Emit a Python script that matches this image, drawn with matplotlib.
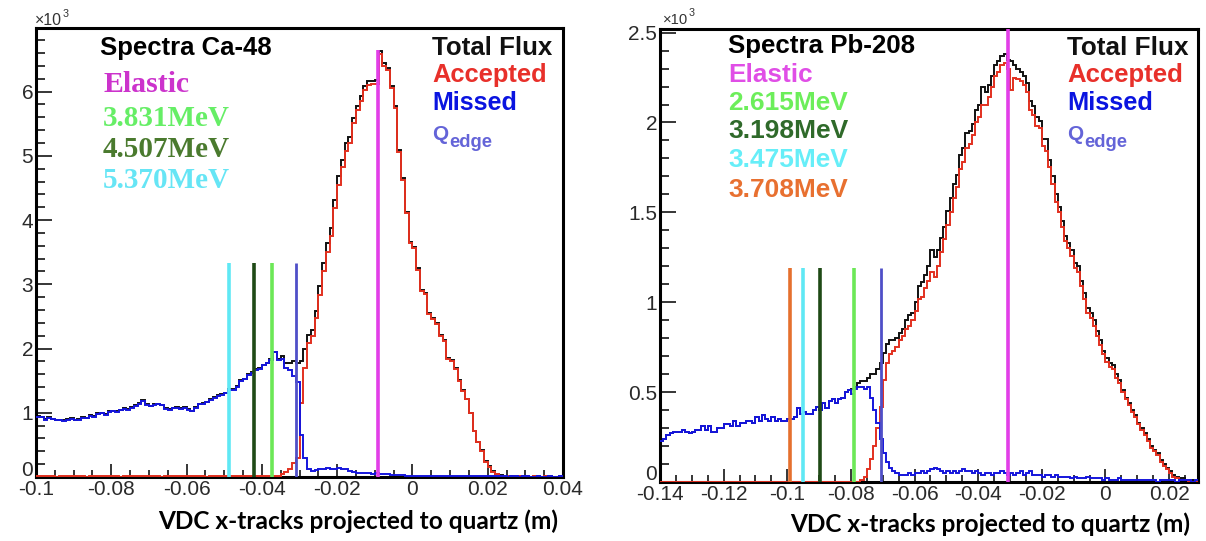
import matplotlib
matplotlib.use("Agg")
import matplotlib.pyplot as plt
import numpy as np
from matplotlib.ticker import MultipleLocator, FuncFormatter
from matplotlib.transforms import ScaledTranslation

plt.rcParams["axes.unicode_minus"] = False

# ---------------------------------------------------------------- data
# Ca-48: 1 mm bins from -0.100 m to 0.040 m, counts in units of 10^3
ca48_edges_range = (-0.100, 0.040)
ca48_total = [
    0.95, 0.94, 0.90, 0.93, 0.91, 0.88, 0.89, 0.88, 0.90, 0.92,
    0.89, 0.90, 0.93, 0.92, 0.96, 0.95, 1.00, 1.00, 0.98, 1.02,
    1.03, 1.02, 1.04, 1.07, 1.06, 1.09, 1.12, 1.15, 1.20, 1.13,
    1.11, 1.13, 1.14, 1.12, 1.07, 1.06, 1.08, 1.09, 1.08, 1.09,
    1.06, 1.03, 1.09, 1.14, 1.15, 1.17, 1.21, 1.24, 1.27, 1.29,
    1.31, 1.37, 1.37, 1.41, 1.51, 1.53, 1.60, 1.64, 1.68, 1.69,
    1.75, 1.78, 1.83, 1.95, 1.84, 1.88, 1.78, 1.78, 1.80, 1.78,
    1.80, 2.00, 2.21, 2.29, 2.58, 2.97, 3.33, 3.64, 3.87, 4.31,
    4.68, 4.94, 5.20, 5.30, 5.59, 5.78, 5.93, 6.08, 6.16, 6.17,
    6.18, 6.63, 6.44, 6.37, 6.08, 5.78, 5.09, 4.65, 4.13, 3.66,
    3.58, 3.25, 2.91, 2.86, 2.55, 2.47, 2.39, 2.21, 2.13, 1.85,
    1.82, 1.69, 1.51, 1.35, 1.22, 1.00, 0.72, 0.55, 0.42, 0.25,
    0.17, 0.09, 0.05, 0.03, 0.02, 0.01, 0.01, 0.02, 0.02, 0.02,
    0.02, 0.00, 0.01, 0.01, 0.00, 0.01, 0.01, 0.00, 0.00, 0.01,
]
ca48_accepted = [
    0.01, 0.01, 0.02, 0.01, 0.01, 0.00, 0.01, 0.01, 0.01, 0.02,
    0.01, 0.01, 0.01, 0.00, 0.01, 0.01, 0.02, 0.01, 0.01, 0.01,
    0.01, 0.01, 0.00, 0.01, 0.01, 0.01, 0.02, 0.01, 0.01, 0.01,
    0.01, 0.01, 0.01, 0.00, 0.01, 0.01, 0.01, 0.01, 0.02, 0.01,
    0.01, 0.01, 0.01, 0.01, 0.01, 0.00, 0.01, 0.01, 0.01, 0.01,
    0.01, 0.01, 0.01, 0.01, 0.01, 0.01, 0.01, 0.02, 0.01, 0.01,
    0.01, 0.01, 0.01, 0.01, 0.02, 0.04, 0.08, 0.12, 0.22, 0.30,
    1.15, 1.70, 2.09, 2.19, 2.47, 2.84, 3.21, 3.50, 3.75, 4.18,
    4.54, 4.82, 5.08, 5.20, 5.51, 5.71, 5.86, 6.02, 6.10, 6.12,
    6.12, 6.59, 6.40, 6.33, 6.05, 5.75, 5.06, 4.62, 4.11, 3.64,
    3.56, 3.23, 2.90, 2.85, 2.54, 2.46, 2.38, 2.20, 2.12, 1.84,
    1.81, 1.68, 1.50, 1.34, 1.21, 0.99, 0.71, 0.54, 0.41, 0.24,
    0.16, 0.08, 0.04, 0.02, 0.01, 0.01, 0.00, 0.01, 0.02, 0.01,
    0.01, 0.00, 0.01, 0.00, 0.00, 0.01, 0.00, 0.00, 0.00, 0.00,
]
ca48_missed = [
    0.94, 0.93, 0.88, 0.92, 0.90, 0.88, 0.88, 0.87, 0.89, 0.90,
    0.88, 0.89, 0.92, 0.92, 0.95, 0.94, 0.98, 0.99, 0.97, 1.01,
    1.02, 1.01, 1.04, 1.06, 1.05, 1.08, 1.10, 1.14, 1.19, 1.12,
    1.10, 1.12, 1.13, 1.12, 1.06, 1.05, 1.07, 1.08, 1.06, 1.08,
    1.05, 1.02, 1.08, 1.13, 1.14, 1.17, 1.20, 1.23, 1.26, 1.28,
    1.30, 1.36, 1.36, 1.40, 1.50, 1.52, 1.59, 1.62, 1.67, 1.68,
    1.74, 1.77, 1.82, 1.94, 1.82, 1.84, 1.70, 1.66, 1.58, 1.48,
    0.65, 0.30, 0.12, 0.10, 0.11, 0.13, 0.12, 0.14, 0.12, 0.13,
    0.14, 0.12, 0.12, 0.10, 0.08, 0.07, 0.07, 0.06, 0.06, 0.05,
    0.06, 0.04, 0.04, 0.04, 0.03, 0.03, 0.03, 0.03, 0.02, 0.02,
    0.02, 0.02, 0.01, 0.01, 0.01, 0.01, 0.01, 0.01, 0.01, 0.01,
    0.01, 0.01, 0.01, 0.01, 0.01, 0.01, 0.01, 0.01, 0.01, 0.01,
    0.01, 0.01, 0.01, 0.01, 0.01, 0.00, 0.01, 0.01, 0.00, 0.01,
    0.01, 0.00, 0.00, 0.01, 0.00, 0.00, 0.01, 0.00, 0.00, 0.01,
]
ca48_elastic_x = -0.0091
ca48_elastic_top = 6.65
ca48_state_labels = ["3.831MeV", "4.507MeV", "5.370MeV"]
ca48_state_x = [-0.0373, -0.0421, -0.0487]
ca48_qedge_x = -0.0309
ca48_marker_top = 3.33

# Pb-208: 1 mm bins from -0.140 m to 0.030 m, counts in units of 10^3
pb208_edges_range = (-0.140, 0.030)
pb208_total = [
    0.23, 0.24, 0.26, 0.27, 0.28, 0.28, 0.28, 0.29, 0.28, 0.27,
    0.28, 0.29, 0.29, 0.31, 0.29, 0.31, 0.28, 0.28, 0.30, 0.30,
    0.32, 0.32, 0.31, 0.34, 0.31, 0.33, 0.33, 0.34, 0.34, 0.33,
    0.36, 0.34, 0.37, 0.35, 0.34, 0.36, 0.34, 0.35, 0.34, 0.34,
    0.35, 0.35, 0.36, 0.41, 0.38, 0.39, 0.38, 0.38, 0.40, 0.42,
    0.40, 0.44, 0.41, 0.45, 0.46, 0.44, 0.46, 0.47, 0.50, 0.51,
    0.52, 0.53, 0.55, 0.56, 0.56, 0.58, 0.60, 0.60, 0.63, 0.66,
    0.72, 0.77, 0.79, 0.79, 0.80, 0.83, 0.85, 0.90, 0.93, 0.94,
    1.00, 1.09, 1.11, 1.15, 1.20, 1.29, 1.25, 1.29, 1.36, 1.42,
    1.51, 1.58, 1.66, 1.71, 1.82, 1.86, 1.94, 1.95, 1.99, 2.07,
    2.10, 2.20, 2.17, 2.21, 2.26, 2.32, 2.34, 2.37, 2.38, 2.35,
    2.34, 2.32, 2.30, 2.28, 2.26, 2.22, 2.12, 2.09, 2.03, 2.01,
    1.91, 1.91, 1.79, 1.70, 1.60, 1.53, 1.45, 1.37, 1.33, 1.29,
    1.22, 1.20, 1.12, 1.05, 0.97, 0.94, 0.90, 0.84, 0.79, 0.73,
    0.69, 0.66, 0.65, 0.60, 0.57, 0.51, 0.47, 0.44, 0.40, 0.37,
    0.33, 0.30, 0.27, 0.24, 0.20, 0.18, 0.16, 0.12, 0.10, 0.08,
    0.06, 0.04, 0.03, 0.02, 0.02, 0.01, 0.01, 0.01, 0.00, 0.00,
]
pb208_accepted = [
    0.00, 0.00, 0.00, 0.00, 0.00, 0.00, 0.00, 0.00, 0.00, 0.00,
    0.00, 0.00, 0.00, 0.00, 0.00, 0.00, 0.00, 0.00, 0.00, 0.00,
    0.00, 0.00, 0.00, 0.00, 0.00, 0.00, 0.00, 0.00, 0.00, 0.00,
    0.00, 0.00, 0.00, 0.00, 0.00, 0.00, 0.00, 0.00, 0.00, 0.00,
    0.00, 0.00, 0.00, 0.00, 0.00, 0.00, 0.00, 0.00, 0.00, 0.00,
    0.00, 0.00, 0.00, 0.00, 0.00, 0.00, 0.00, 0.00, 0.00, 0.00,
    0.00, 0.00, 0.00, 0.01, 0.03, 0.07, 0.13, 0.20, 0.30, 0.42,
    0.57, 0.66, 0.71, 0.73, 0.75, 0.79, 0.81, 0.85, 0.87, 0.90,
    0.95, 1.02, 1.03, 1.08, 1.12, 1.17, 1.14, 1.20, 1.28, 1.35,
    1.43, 1.50, 1.58, 1.64, 1.74, 1.78, 1.86, 1.88, 1.93, 2.00,
    2.03, 2.10, 2.10, 2.14, 2.20, 2.26, 2.28, 2.32, 2.33, 2.30,
    2.18, 2.25, 2.24, 2.23, 2.21, 2.17, 2.07, 2.04, 1.98, 1.97,
    1.87, 1.84, 1.75, 1.66, 1.56, 1.50, 1.42, 1.34, 1.30, 1.26,
    1.19, 1.17, 1.09, 1.02, 0.94, 0.91, 0.87, 0.81, 0.76, 0.71,
    0.67, 0.64, 0.63, 0.58, 0.55, 0.50, 0.46, 0.43, 0.39, 0.36,
    0.32, 0.29, 0.26, 0.23, 0.19, 0.17, 0.15, 0.11, 0.09, 0.07,
    0.05, 0.03, 0.02, 0.01, 0.01, 0.01, 0.00, 0.00, 0.00, 0.00,
]
pb208_missed = [
    0.23, 0.24, 0.26, 0.27, 0.28, 0.28, 0.28, 0.29, 0.28, 0.27,
    0.28, 0.29, 0.29, 0.31, 0.29, 0.31, 0.28, 0.28, 0.30, 0.30,
    0.32, 0.32, 0.31, 0.34, 0.31, 0.33, 0.33, 0.34, 0.34, 0.33,
    0.36, 0.34, 0.37, 0.35, 0.34, 0.36, 0.34, 0.35, 0.34, 0.34,
    0.35, 0.35, 0.36, 0.41, 0.38, 0.39, 0.38, 0.38, 0.40, 0.42,
    0.40, 0.44, 0.41, 0.45, 0.46, 0.44, 0.46, 0.47, 0.50, 0.51,
    0.49, 0.52, 0.53, 0.53, 0.52, 0.53, 0.47, 0.40, 0.33, 0.24,
    0.16, 0.11, 0.08, 0.06, 0.05, 0.04, 0.04, 0.04, 0.05, 0.04,
    0.05, 0.05, 0.06, 0.05, 0.06, 0.07, 0.08, 0.07, 0.06, 0.05,
    0.06, 0.05, 0.06, 0.05, 0.06, 0.07, 0.06, 0.06, 0.05, 0.06,
    0.05, 0.04, 0.05, 0.05, 0.04, 0.05, 0.05, 0.06, 0.05, 0.04,
    0.05, 0.04, 0.05, 0.06, 0.04, 0.05, 0.06, 0.04, 0.04, 0.04,
    0.03, 0.04, 0.04, 0.03, 0.04, 0.03, 0.03, 0.03, 0.03, 0.02,
    0.03, 0.02, 0.02, 0.02, 0.03, 0.02, 0.02, 0.02, 0.02, 0.01,
    0.02, 0.01, 0.01, 0.01, 0.02, 0.01, 0.01, 0.01, 0.01, 0.01,
    0.01, 0.01, 0.01, 0.01, 0.01, 0.01, 0.00, 0.01, 0.01, 0.01,
    0.01, 0.01, 0.00, 0.01, 0.01, 0.01, 0.01, 0.00, 0.01, 0.01,
]
pb208_elastic_x = -0.0305
pb208_state_labels = ["2.615MeV", "3.198MeV", "3.475MeV", "3.708MeV"]
pb208_state_x = [-0.0790, -0.0897, -0.0950, -0.0991]
pb208_qedge_x = -0.0705
pb208_marker_top = 1.19

x_label = "VDC x-tracks projected to quartz (m)"
flux_labels = ["Total Flux", "Accepted", "Missed"]

# ---------------------------------------------------------------- style
C_TOTAL, C_ACC, C_MISS = "#111111", "#e2301f", "#1515dc"
C_QEDGE_LINE, C_QEDGE_TXT = "#4f4fc8", "#6464d8"
C_ELASTIC_LINE = "#e23ee8"
ca48_state_line_colors = ["#6ce857", "#1f4a16", "#5fe8f4"]
ca48_state_text_colors = ["#66ee66", "#4a7a2e", "#66e5f5"]
pb208_state_line_colors = ["#6ce857", "#1f4a16", "#5fe8f4", "#e5702e"]
pb208_state_text_colors = ["#6cee5a", "#2f6a2a", "#66eef8", "#e87030"]
SANS = "Liberation Sans"
SERIF = "Liberation Serif"

W, H = 1206, 541
fig = plt.figure(figsize=(W / 100, H / 100), dpi=100)
renderer = fig.canvas.get_renderer()


def axes_px(left, top, right, bottom):
    return fig.add_axes([left / W, 1 - bottom / H, (right - left) / W, (bottom - top) / H])


def fitted_text(x, y, s, width, color, family=SANS, weight="bold", ha="left"):
    """Place text with its baseline at pixel (x, y) and a given pixel width."""
    t = fig.text(x / W, 1 - y / H, s, ha=ha, va="baseline", fontsize=20,
                 color=color, family=family, weight=weight)
    w = t.get_window_extent(renderer).width
    t.set_fontsize(20 * width / w)
    return t


def tick_fmt(v, _pos):
    v = round(v, 6)
    if v == 0:
        return "0"
    return f"{v:g}"


def style_axes(ax, xmajor, xminor, ymajor, yminor):
    for sp in ax.spines.values():
        sp.set_linewidth(2.2)
        sp.set_color("black")
    ax.xaxis.set_major_locator(MultipleLocator(xmajor))
    ax.xaxis.set_minor_locator(MultipleLocator(xminor))
    ax.yaxis.set_major_locator(MultipleLocator(ymajor))
    ax.yaxis.set_minor_locator(MultipleLocator(yminor))
    ax.xaxis.set_major_formatter(FuncFormatter(tick_fmt))
    ax.yaxis.set_major_formatter(FuncFormatter(tick_fmt))
    ax.tick_params(which="both", direction="in", top=False, right=False,
                   width=1.1, color="black", labelsize=15, labelcolor="#2a2a2a")
    for lab in ax.get_xticklabels() + ax.get_yticklabels():
        lab.set_family(SANS)
    ax.tick_params(axis="x", which="major", length=9.5, pad=2.5)
    ax.tick_params(axis="x", which="minor", length=5)
    ax.tick_params(axis="y", which="major", length=11.5, pad=2)
    ax.tick_params(axis="y", which="minor", length=6.5)


def lift_zero_label(ax, px):
    """Raise the '0' label of the y axis clear of the x tick labels."""
    fig.canvas.draw()
    for tick in ax.yaxis.get_major_ticks():
        if abs(tick.get_loc()) < 1e-9:
            lab = tick.label1
            lab.set_transform(lab.get_transform()
                              + ScaledTranslation(0, px / 100, fig.dpi_scale_trans))


def draw_spectrum(ax, rng, total, accepted, missed):
    edges = np.linspace(rng[0], rng[1], len(total) + 1)
    ax.stairs(total, edges, baseline=None, color=C_TOTAL, lw=1.4, zorder=2)
    ax.stairs(accepted, edges, baseline=None, color=C_ACC, lw=1.4, zorder=3)
    ax.stairs(missed, edges, baseline=None, color=C_MISS, lw=1.4, zorder=4)


def marker(ax, x, top, color, lw=2.6):
    ax.plot([x, x], [0, top], color=color, lw=lw, solid_capstyle="butt", zorder=6)


# ---------------------------------------------------------------- Ca-48
axL = axes_px(36, 28, 563, 477)
draw_spectrum(axL, ca48_edges_range, ca48_total, ca48_accepted, ca48_missed)
for x, c in zip(ca48_state_x, ca48_state_line_colors):
    marker(axL, x, ca48_marker_top, c)
marker(axL, ca48_qedge_x, ca48_marker_top, C_QEDGE_LINE, lw=2.0)
marker(axL, ca48_elastic_x, ca48_elastic_top, C_ELASTIC_LINE)
axL.set_xlim(*ca48_edges_range)
axL.set_ylim(0, 6.99)
style_axes(axL, 0.02, 0.005, 1, 0.2)

# ---------------------------------------------------------------- Pb-208
axR = axes_px(660, 29, 1198, 482)
draw_spectrum(axR, pb208_edges_range, pb208_total, pb208_accepted, pb208_missed)
for x, c in zip(pb208_state_x, pb208_state_line_colors):
    marker(axR, x, pb208_marker_top, c)
marker(axR, pb208_qedge_x, pb208_marker_top, C_QEDGE_LINE, lw=2.0)
axR.set_xlim(-0.14, 0.0291)
axR.set_ylim(0, 2.52)
marker(axR, pb208_elastic_x, 2.52, C_ELASTIC_LINE)
style_axes(axR, 0.02, 0.005, 0.5, 0.1)

lift_zero_label(axL, 9)
lift_zero_label(axR, 9)

# ---------------------------------------------------------------- texts
# exponent labels above the y axes
for x0, y0, w in [(35, 25, 27), (663, 24, 25)]:
    fitted_text(x0, y0, "\u00d710", w, "#333333", weight="normal")
    fitted_text(x0 + w + 1, y0 - 8, "3", 6, "#333333", weight="normal")

# Ca-48 annotations
fitted_text(100, 55, "Spectra Ca-48", 172, "black")
fitted_text(103, 92, "Elastic", 86, "#cc33cc", family=SERIF)
for lab, c, yb in zip(ca48_state_labels, ca48_state_text_colors, [126, 157, 188]):
    fitted_text(103, yb, lab, 127, c, family=SERIF)

# Pb-208 annotations
fitted_text(728, 53, "Spectra Pb-208", 187, "black")
fitted_text(728, 82, "Elastic", 84, "#e04ee6")
for lab, c, yb in zip(pb208_state_labels, pb208_state_text_colors, [110, 138, 167, 197]):
    fitted_text(728, yb, lab, 120, c)

# flux legends
for x0, widths in [(432, [120, 115, 85]), (1067, [121, 116, 86])]:
    for lab, c, yb, w in zip(flux_labels, [C_TOTAL, "#e8302a", "#0a14e0"], [55, 82, 110], widths):
        fitted_text(x0, yb, lab, w, c)
    fitted_text(x0, 140, "Q", 16, C_QEDGE_TXT)
    fitted_text(x0 + 17, 147, "edge", 43, C_QEDGE_TXT)

# axis titles
fitted_text(358, 529, x_label, 400, "black", family="Lato", ha="center")
fitted_text(990, 532, x_label, 400, "black", family="Lato", ha="center")

fig.savefig("out.png", dpi=100, facecolor="white")
